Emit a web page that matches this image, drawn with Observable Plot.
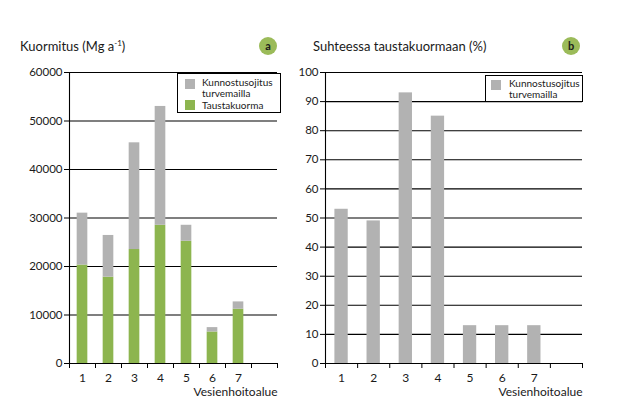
<!DOCTYPE html>
<html>
<head>
<meta charset="utf-8">
<script src="https://cdn.jsdelivr.net/npm/d3@7"></script>
<script src="https://cdn.jsdelivr.net/npm/@observablehq/plot@0.6"></script>
<style>
  html, body { margin: 0; padding: 0; background: #fff; }
  #root { position: relative; width: 637px; height: 408px; background: #fff; font-family: Lato, "Open Sans", sans-serif; color: #1a1a1a; overflow: hidden; }
  .abs { position: absolute; }
  .title { font-size: 13px; line-height: 16px; white-space: nowrap; }
  .badge { width: 18px; height: 18px; border-radius: 50%; background: #9bbb59; font-size: 11px; font-weight: bold; text-align: center; line-height: 17px; color: #1a1a1a; }
  .legend { border: 1px solid #000; background: #fff; box-sizing: border-box; }
  .sw { position: absolute; width: 10px; height: 10px; }
  .lt { position: absolute; font-size: 10px; line-height: 11px; white-space: nowrap; }
</style>
</head>
<body>
<div id="root"></div>
<script>
// ---- data ----
const alueet = ["1", "2", "3", "4", "5", "6", "7"];
const taustakuorma = [20300, 17800, 23500, 28500, 25200, 6500, 11200];          // Mg/a
const kunnostusojitus = [10700, 8600, 22000, 24500, 3300, 900, 1500];          // Mg/a (stacked on top)
const suhde = [53, 49, 93, 85, 13, 13, 13];                                    // %
const yTicksA = [0, 10000, 20000, 30000, 40000, 50000, 60000];
const yTicksB = [0, 10, 20, 30, 40, 50, 60, 70, 80, 90, 100];
const seriesNames = ["Kunnostusojitus<br>turvemailla", "Taustakuorma"];
const xLabel = "Vesienhoitoalue";

const GRAY = "#b2b2b2";
const GREEN = "#8db54f";
const nBands = alueet.length + 1; // one empty band at the end
const idx = alueet.map((d, i) => i);

const root = document.getElementById("root");

function makePanel({width, marginLeft, marginRight, yDomain, yTicks, bw, marks}) {
  return Plot.plot({
    width, height: 408,
    marginLeft, marginRight, marginTop: 72, marginBottom: 45,
    x: {domain: [0, nBands], axis: null},
    y: {domain: yDomain, axis: null},
    style: {fontFamily: "Lato, 'Open Sans', sans-serif", fontSize: "11.5px", color: "#000", background: "transparent", overflow: "visible"},
    marks: [
      Plot.ruleY(yTicks.filter(v => v > 0), {stroke: "#000", strokeWidth: 1.1}),
      ...marks(bw),
      Plot.axisY({ticks: yTicks, tickSize: 5, tickPadding: 2, tickFormat: d3.format("d"), label: null, stroke: "#000", fill: "#1a1a1a"}),
      Plot.axisX({ticks: d3.range(0, nBands + 1), tickSize: 5, tickFormat: () => "", label: null, stroke: "#000"}),
      Plot.ruleX([0], {stroke: "#000", strokeWidth: 1.1}),
      Plot.ruleY([0], {stroke: "#000", strokeWidth: 1.1}),
      Plot.text(alueet, {x: (d, i) => i + 0.5, y: 0, dy: 15, text: d => d, fontSize: 12, fill: "#1a1a1a"}),
      Plot.text([xLabel], {x: nBands, y: 0, dy: 29, text: d => d, textAnchor: "end", fontSize: 12, fill: "#1a1a1a"})
    ]
  });
}

// Panel a: stacked bars
const plotA = makePanel({
  width: 300, marginLeft: 69, marginRight: 23,
  yDomain: [0, 60000], yTicks: yTicksA, bw: 0.41,
  marks: (bw) => [
    Plot.rect(idx, {x1: i => i + 0.5 - bw / 2, x2: i => i + 0.5 + bw / 2, y1: 0, y2: i => taustakuorma[i], fill: GREEN}),
    Plot.rect(idx, {x1: i => i + 0.5 - bw / 2, x2: i => i + 0.5 + bw / 2, y1: i => taustakuorma[i], y2: i => taustakuorma[i] + kunnostusojitus[i], fill: GRAY})
  ]
});
plotA.classList.add("abs");
plotA.style.left = "0px"; plotA.style.top = "0px";
root.appendChild(plotA);

// Panel b: percentage bars
const plotB = makePanel({
  width: 337, marginLeft: 25, marginRight: 55,
  yDomain: [0, 100], yTicks: yTicksB, bw: 0.415,
  marks: (bw) => [
    Plot.rect(idx, {x1: i => i + 0.5 - bw / 2, x2: i => i + 0.5 + bw / 2, y1: 0, y2: i => suhde[i], fill: GRAY})
  ]
});
plotB.classList.add("abs");
plotB.style.left = "300px"; plotB.style.top = "0px";
root.appendChild(plotB);

// Titles, badges, legends
function el(html, cls, css) {
  const d = document.createElement("div");
  d.className = "abs " + cls;
  d.innerHTML = html;
  Object.assign(d.style, css);
  root.appendChild(d);
  return d;
}
el('Kuormitus (Mg a<sup style="font-size:8px;vertical-align:5px;line-height:0">-1</sup>)', "title", {left: "20px", top: "38px"});
el('Suhteessa taustakuormaan (%)', "title", {left: "313px", top: "38px"});
el('a', "badge", {left: "259px", top: "37px"});
el('b', "badge", {left: "562px", top: "37px"});

const legA = el("", "legend", {left: "177px", top: "73px", width: "104px", height: "40px"});
legA.innerHTML =
  `<div class="sw" style="left:7px;top:5px;background:${GRAY}"></div>
   <div class="lt" style="left:24px;top:3px">${seriesNames[0]}</div>
   <div class="sw" style="left:7px;top:26px;background:${GREEN}"></div>
   <div class="lt" style="left:24px;top:26px">${seriesNames[1]}</div>`;

const legB = el("", "legend", {left: "485px", top: "75px", width: "98px", height: "27px"});
legB.innerHTML =
  `<div class="sw" style="left:5px;top:4px;background:${GRAY}"></div>
   <div class="lt" style="left:23px;top:2px">${seriesNames[0]}</div>`;
</script>
</body>
</html>
